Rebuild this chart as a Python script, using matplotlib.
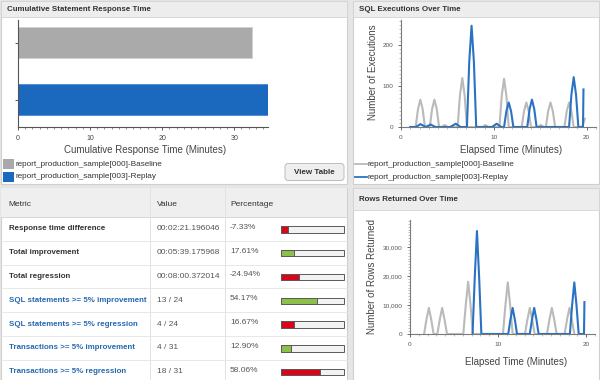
import matplotlib
matplotlib.use("Agg")
import matplotlib.pyplot as plt
from matplotlib.patches import Rectangle, FancyBboxPatch
from matplotlib.ticker import MultipleLocator, FuncFormatter

plt.rcParams['font.family'] = ['Liberation Sans', 'DejaVu Sans']

W, H = 600, 380

# ---- data ----
runs = ["report_production_sample[000]-Baseline", "report_production_sample[003]-Replay"]
cumulative_minutes = [32.5, 34.8]

exec_base_t = [1.0, 1.58, 1.83, 2.08, 2.33, 2.58, 3.1, 3.35, 3.6, 3.85, 4.1, 4.4, 4.7, 5.0,
               6.1, 6.35, 6.6, 6.85, 7.1, 8.8, 9.1, 9.4, 10.6, 10.85, 11.1, 11.35, 11.6,
               13.0, 13.25, 13.5, 13.75, 14.0, 14.75, 15.05, 15.35, 15.6, 15.85, 16.1, 16.35,
               16.6, 17.6, 17.85, 18.1, 18.35, 18.6, 19.5, 19.8]
exec_base_v = [0, 0, 44, 67, 44, 0, 0, 44, 67, 44, 0, 0, 5, 0,
               0, 78, 120, 78, 0, 0, 5, 0, 0, 77, 118, 77, 0,
               0, 39, 60, 39, 0, 0, 5, 0, 0, 39, 60, 39,
               0, 0, 39, 60, 39, 0, 0, 20]

exec_replay_t = [1.0, 1.6, 2.1, 2.65, 3.2, 3.7, 5.3, 5.9, 6.4, 7.1, 7.35, 7.6, 7.85, 8.1,
                 9.8, 10.3, 10.8, 11.1, 11.35, 11.6, 11.85, 12.1, 13.6, 13.85, 14.1, 14.35,
                 14.6, 18.1, 18.35, 18.6, 18.85, 19.1, 19.6, 19.65]
exec_replay_v = [0, 0, 7, 0, 6, 0, 0, 8, 0, 0, 160, 248, 160, 0,
                 0, 8, 0, 0, 39, 60, 39, 0, 0, 44, 67, 44,
                 0, 0, 79, 122, 79, 0, 0, 92]

rows_base_t = [1.6, 1.87, 2.14, 2.41, 2.68, 3.1, 3.38, 3.65, 3.92, 4.2, 6.05, 6.33, 6.6, 6.87,
               7.15, 10.55, 10.83, 11.1, 11.37, 11.65, 13.05, 13.33, 13.6, 13.87, 14.15,
               15.55, 15.83, 16.1, 16.37, 16.65, 17.55, 17.83, 18.1, 18.37, 18.65]
rows_base_v = [0, 5000, 9000, 5000, 0, 0, 5000, 9000, 5000, 0, 0, 10000, 18000, 10000,
               0, 0, 9900, 17800, 9900, 0, 0, 5000, 9000, 5000, 0,
               0, 5000, 9000, 5000, 0, 0, 5000, 9000, 5000, 0]

rows_replay_t = [7.1, 7.35, 7.6, 7.85, 8.1, 11.15, 11.4, 11.65, 11.9, 12.15, 13.6, 13.85,
                 14.1, 14.35, 14.6, 18.15, 18.4, 18.65, 18.9, 19.15, 19.75, 19.8]
rows_replay_v = [0, 19500, 35500, 19500, 0, 0, 5000, 9000, 5000, 0, 0, 5000,
                 9000, 5000, 0, 0, 9900, 17800, 9900, 0, 0, 11000]

metrics = ["Response time difference", "Total improvement", "Total regression",
           "SQL statements >= 5% improvement", "SQL statements >= 5% regression",
           "Transactions >= 5% improvement", "Transactions >= 5% regression"]
metric_values = ["00:02:21.196046", "00:05:39.175968", "00:08:00.372014",
                 "13 / 24", "4 / 24", "4 / 31", "18 / 31"]
percentages = [-7.33, 17.61, -24.94, 54.17, 16.67, 12.90, 58.06]
improves = [False, True, False, True, False, True, False]

GRAY = "#aaaaaa"
BLUE = "#1a69bf"
LINE_GRAY = "#bababa"
LINE_BLUE = "#2b73c2"
TXT = "#333333"
LINK = "#2468b0"


def px_axes(fig, x0, y0, x1, y1):
    return fig.add_axes([x0 / W, 1 - y1 / H, (x1 - x0) / W, (y1 - y0) / H])


fig = plt.figure(figsize=(6, 3.8), dpi=100)
fig.patch.set_facecolor("#e6e6e6")

bg = fig.add_axes([0, 0, 1, 1])
bg.set_xlim(0, W)
bg.set_ylim(H, 0)
bg.axis("off")

# panels
panels = [(1, 1, 347, 184), (1, 188, 347, 381), (353, 1, 599, 184), (353, 188, 599, 381)]
for x0, y0, x1, y1 in panels:
    bg.add_patch(Rectangle((x0, y0), x1 - x0, y1 - y0, facecolor="white",
                           edgecolor="#cfcfcf", linewidth=0.8))

# panel headers
headers = [(1, 1, 347, 17, "Cumulative Statement Response Time"),
           (353, 1, 599, 17, "SQL Executions Over Time"),
           (353, 188, 599, 210, "Rows Returned Over Time")]
for x0, y0, x1, y1, title in headers:
    bg.add_patch(Rectangle((x0, y0), x1 - x0, y1 - y0, facecolor="#ededed",
                           edgecolor="#d4d4d4", linewidth=0.6))
    bg.text(x0 + 6, (y0 + y1) / 2 + 0.5, title, fontsize=5.7, fontweight="bold",
            color=TXT, va="center", ha="left")

# ---- cumulative response time bars ----
axb = px_axes(fig, 18, 20, 268, 127)
axb.patch.set_alpha(0)
axb.barh([0, 1], cumulative_minutes, height=0.54, color=[GRAY, BLUE],
         edgecolor=["#d0d0d0", "#4a8ad2"], linewidth=0.6)
axb.set_ylim(1.48, -0.395)
axb.set_xlim(0, 34.7)
axb.set_yticks([0, 1])
axb.set_yticklabels([])
axb.xaxis.set_major_locator(MultipleLocator(10))
axb.xaxis.set_minor_locator(MultipleLocator(1))
for s in ["top", "right"]:
    axb.spines[s].set_visible(False)
for s in ["left", "bottom"]:
    axb.spines[s].set_color("#555555")
    axb.spines[s].set_linewidth(0.8)
axb.tick_params(labelsize=5, colors="#444444", length=2.5, width=0.6, pad=3)
axb.tick_params(which="minor", length=1.5, width=0.5, colors="#666666")
axb.set_xlabel("Cumulative Response Time (Minutes)", fontsize=7.0, color="#444444")
axb.xaxis.set_label_coords(0.508, -0.165)

# legend squares
for i, (run, col) in enumerate(zip(runs, [GRAY, BLUE])):
    y = 163.5 + i * 13
    bg.add_patch(Rectangle((3, y - 5), 10.5, 10.5, facecolor=col, edgecolor="none"))
    bg.text(15, y + 0.5, run, fontsize=5.9, color=TXT, va="center", ha="left")

# view table button
bg.add_patch(FancyBboxPatch((285, 163.5), 59, 17, boxstyle="round,pad=0,rounding_size=3",
                            facecolor="#efefef", edgecolor="#bdbdbd", linewidth=0.7))
bg.text(314.5, 172.5, "View Table", fontsize=5.8, fontweight="bold", color=TXT,
        ha="center", va="center")


# ---- time series charts ----
def setup_time_axes(ax, ymax, major, minor, ylabel, fmt):
    ax.patch.set_alpha(0)
    ax.set_xlim(0, 21)
    ax.set_ylim(0, ymax)
    for s in ["top", "right"]:
        ax.spines[s].set_visible(False)
    for s in ["left", "bottom"]:
        ax.spines[s].set_color("#7a7a7a")
        ax.spines[s].set_linewidth(0.8)
        ax.spines[s].set_zorder(1)
    ax.xaxis.set_major_locator(MultipleLocator(10))
    ax.xaxis.set_minor_locator(MultipleLocator(1))
    ax.yaxis.set_major_locator(MultipleLocator(major))
    ax.yaxis.set_minor_locator(MultipleLocator(minor))
    ax.yaxis.set_major_formatter(FuncFormatter(fmt))
    ax.tick_params(labelsize=4.6, colors="#555555", length=2.5, width=0.6, pad=3)
    ax.tick_params(which="minor", length=1.5, width=0.4, colors="#888888")
    ax.set_xlabel("Elapsed Time (Minutes)", fontsize=7.0, color="#444444")
    ax.set_ylabel(ylabel, fontsize=7.0, color="#444444")


axe = px_axes(fig, 401, 20, 596, 127)
setup_time_axes(axe, 262, 100, 10, "Number of Executions", lambda v, p: f"{v:.0f}")
axe.plot(exec_base_t, exec_base_v, color=LINE_GRAY, lw=1.5, solid_joinstyle="round", zorder=3)
axe.plot(exec_replay_t, exec_replay_v, color=LINE_BLUE, lw=1.5, solid_joinstyle="round", zorder=4)
axe.xaxis.set_label_coords(0.564, -0.165)
axe.yaxis.set_label_coords(-0.118, 0.51)

for i, (run, col) in enumerate(zip(runs, [LINE_GRAY, LINE_BLUE])):
    y = 163.5 + i * 13.5
    bg.plot([355, 367], [y, y], color=col, lw=1.3)
    bg.text(368, y + 0.5, run, fontsize=5.9, color=TXT, va="center", ha="left")

axr = px_axes(fig, 410, 220, 595, 334)
setup_time_axes(axr, 39300, 10000, 1000, "Number of Rows Returned",
                lambda v, p: f"{v:,.0f}")
axr.plot(rows_base_t, rows_base_v, color=LINE_GRAY, lw=1.5, solid_joinstyle="round", zorder=3)
axr.plot(rows_replay_t, rows_replay_v, color=LINE_BLUE, lw=1.5, solid_joinstyle="round", zorder=4)
axr.xaxis.set_label_coords(0.573, -0.2)
axr.yaxis.set_label_coords(-0.178, 0.5)

# ---- metrics table ----
bg.add_patch(Rectangle((1, 188), 346, 29, facecolor="#efefef", edgecolor="none"))
bg.plot([1, 347], [217, 217], color="#d6d6d6", lw=0.7)
for xc in (150, 225):
    bg.plot([xc, xc], [188, 381], color="#e2e2e2", lw=0.7)
bg.text(8, 204, "Metric", fontsize=6.0, color=TXT, va="center")
bg.text(157, 204, "Value", fontsize=6.0, color=TXT, va="center")
bg.text(230, 204, "Percentage", fontsize=6.0, color=TXT, va="center")

row_h = 23.8
for i, (m, v, p, good) in enumerate(zip(metrics, metric_values, percentages, improves)):
    top = 217 + i * row_h
    yc = top + row_h / 2
    if i > 0:
        bg.plot([1, 347], [top, top], color="#e4e4e4", lw=0.6)
    bg.text(9, yc, m, fontsize=5.7, fontweight="bold", color=TXT if i < 3 else LINK,
            va="center")
    bg.text(157, yc, v, fontsize=6.0, color="#555555", va="center")
    bg.text(230, yc - 1.5, f"{p:.2f}%", fontsize=6.0, color="#555555", va="center")
    bx, bw, bh = 281, 63, 6.5
    bg.add_patch(Rectangle((bx, yc - bh / 2 + 0.5), bw, bh, facecolor="#f2f2f2",
                           edgecolor="#5a5a5a", linewidth=0.7))
    bg.add_patch(Rectangle((bx, yc - bh / 2 + 0.5), bw * abs(p) / 100 + 2, bh,
                           facecolor="#8dc04a" if good else "#d9061b",
                           edgecolor="#5a5a5a", linewidth=0.7))

fig.savefig("out.png", dpi=100, facecolor=fig.get_facecolor())
